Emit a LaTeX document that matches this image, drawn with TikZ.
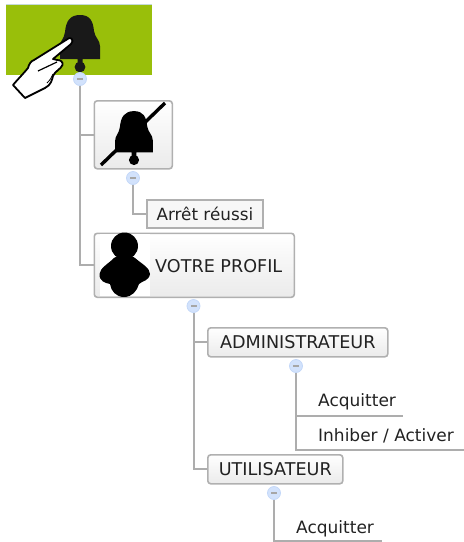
\documentclass[tikz,border=0pt]{standalone}
\usepackage{fontspec}
\setmainfont{DejaVu Sans}
\definecolor{linegray}{HTML}{ADADAD}
\definecolor{boxedge}{HTML}{B0B0B0}
\definecolor{toggleedge}{HTML}{C4D8F8}
\definecolor{togglefill}{HTML}{D2E2FC}
\definecolor{ink}{HTML}{222222}
\definecolor{leaf}{HTML}{99BF0A}
\definecolor{strip}{HTML}{C5DAD8}
\tikzset{
  x=1pt,y=-1pt,
  topicbox/.style={draw=boxedge,line width=1.6pt,rounded corners=3pt,top color=white,bottom color=black!8,inner sep=0pt,text=ink,font=\fontsize{17.6}{20}\selectfont,anchor=north west},
  plainbox/.style={draw=boxedge,line width=1.8pt,fill=black!3,inner sep=0pt,text=ink,font=\fontsize{16.8}{20}\selectfont,anchor=north west},
  leaftext/.style={inner sep=0pt,text=ink,font=\fontsize{17}{20}\selectfont,anchor=base west},
  toggle/.style={circle,draw=toggleedge,line width=.8pt,fill=togglefill,minimum size=13pt,inner sep=0pt,
    path picture={\fill[black!35] ([xshift=-3pt,yshift=-.6pt]path picture bounding box.center) rectangle ([xshift=3pt,yshift=.6pt]path picture bounding box.center);}},
  conn/.style={draw=linegray,line width=2pt},
  connleaf/.style={draw=linegray,line width=2pt},
}
% bell drawn with its clapper at the origin
\newcommand{\bellshape}[1]{%
  \fill[#1] (-20,-8) -- (-20,-21) .. controls (-20,-26) and (-16,-28) .. (-15,-35)
   .. controls (-14,-46) and (-10,-52) .. (0,-52) .. controls (10,-52) and (13,-46) .. (14,-36)
   .. controls (15,-29) and (20,-27) .. (20,-21) -- (20,-8) -- (2.500,-8) -- (2.500,-3) -- (-2.500,-3) -- (-2.500,-8) -- cycle;
  \fill[#1] (0,0) circle (5.400);
}
\begin{document}
\begin{tikzpicture}
\useasboundingbox (0,0) rectangle (464,542);
% root tile
\node[fill=leaf,minimum width=146pt,minimum height=70pt,inner sep=0pt,anchor=north west] (root) at (6,5) {};
\fill[strip] (6,4) rectangle (152,5);
\begin{scope}[shift={(80,67)}]
  \bellshape{black!90}
\end{scope}
\node[toggle] (t1) at (80,79) {};
\node[toggle] (t2) at (133,178) {};
\node[toggle] (t3) at (193.500,306) {};
\node[toggle] (t4) at (296,366) {};
\node[toggle] (t5) at (274,493) {};
% nodes
\node[topicbox,minimum width=78pt,minimum height=68pt] (off) at (93.500,100) {};
\node[plainbox,minimum width=116pt,minimum height=28pt] (arret) at (146,199) {Arrêt réussi};
\node[topicbox,minimum width=200pt,minimum height=64pt] (profil) at (93.500,232.500) {};
\node[topicbox,minimum width=180pt,minimum height=29pt] (admin) at (207,327) {ADMINISTRATEUR};
\node[topicbox,minimum width=135pt,minimum height=29pt] (user) at (207,454) {UTILISATEUR};
\node[leaftext] (acq1) at (318,406) {Acquitter};
\node[leaftext] (inh) at (318,441) {Inhiber / Activer};
\node[leaftext] (acq2) at (296,533) {Acquitter};
\coordinate (acq1end) at (403,416);
\coordinate (inhend) at (464,450);
\coordinate (acq2end) at (382,541);
% connectors
\draw[conn] (t1.south) |- (off.west);
\draw[conn] (t1.south) |- (profil.west);
\draw[conn] (t2.south) |- (arret.west);
\draw[conn] (t3.south) |- (admin.west);
\draw[conn] (t3.south) |- (user.west);
\draw[connleaf] (t4.south) |- (acq1end);
\draw[connleaf] (t4.south) |- (inhend);
\draw[connleaf] (t5.south) |- (acq2end);
% bell struck through
\draw[black,line width=3.4pt] (101,165) -- (165,103);
\begin{scope}[shift={(134,160)},scale=.94]
  \bellshape{black}
\end{scope}
% profile picture
\fill[white] (100,234) rectangle (150,296);
\fill[black] (124.500,246) circle (13.500);
\fill[black] (114,258) .. controls (120,254) and (130,254) .. (135,258)
  .. controls (142,264) and (150,268) .. (150,274)
  .. controls (149,281) and (142,281) .. (139,284)
  .. controls (137,291) and (132,297) .. (124,297)
  .. controls (116,297) and (111,291) .. (110,284)
  .. controls (105,283) and (99,281) .. (99.500,274)
  .. controls (100,268) and (108,264) .. (114,258) -- cycle;
\node[inner sep=0pt,text=ink,font=\fontsize{17.6}{20}\selectfont,anchor=base west] (profiltext) at (155,272) {VOTRE PROFIL};
% hand
\draw[black,line width=1.8pt,fill=white,line join=round]
  (71.500,38.500) .. controls (73,40) and (73,42) .. (71,44)
  -- (53,59) -- (57,60) .. controls (61,60) and (63,62) .. (62.500,65)
  .. controls (61,69) and (55,71) .. (53,76)
  .. controls (52,80) and (51,85) .. (45,88)
  -- (25,98) -- (13,85)
  .. controls (18,79) and (24,73) .. (28,68)
  .. controls (29,64) and (31,61) .. (34,60)
  -- (66,40) .. controls (68,38) and (70,37.500) .. (71.500,38.500) -- cycle;
\draw[black,line width=1.2pt] (38,71) -- (57,62);
\draw[black,line width=.8pt] (47,83) .. controls (50,80) and (52,77) .. (53,74);
\end{tikzpicture}
\end{document}
